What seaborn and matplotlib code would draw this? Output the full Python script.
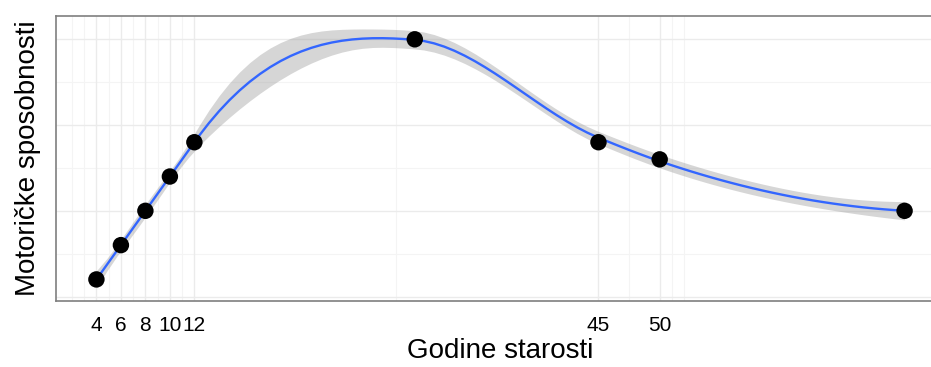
import numpy as np
import pandas as pd
import matplotlib
matplotlib.use("Agg")
import matplotlib.pyplot as plt
import seaborn as sns
from math import lgamma

# ---- data ----
age = [4, 6, 8, 10, 12, 30, 45, 50, 70]
ability = [1, 3, 5, 7, 9, 15, 9, 8, 5]
x_breaks = [4, 6, 8, 10, 12, 45, 50]
x_minor = [2, 3, 5, 7, 9, 11, 28.5, 47.5, 51, 52]
y_breaks = [0, 5, 10, 15]
y_minor = [2.5, 7.5, 12.5]

df = pd.DataFrame({"age": age, "ability": ability})

xv = np.asarray(age, float)
yv = np.asarray(ability, float)
n = len(xv)


# ---- loess (span 0.75, degree 2, kd-tree vertices + Hermite interpolation, as R) ----
def local_rows(x0, span=0.75):
    q = int(np.floor(n * span))
    d = np.abs(xv - x0)
    h = np.sort(d)[q - 1] * 1.0000001
    u = d / h
    w = np.where(u < 1, (1 - u ** 3) ** 3, 0.0)
    X = np.column_stack([np.ones(n), xv - x0, (xv - x0) ** 2])
    XtW = X.T * w
    B = np.linalg.lstsq(XtW @ X, XtW, rcond=None)[0]
    return B[0], B[1]  # value row, slope row


def kd_vertices(fc):
    order = np.sort(xv)
    mu = 0.005 * (order[-1] - order[0])
    lo_v, hi_v = order[0] - mu, order[-1] + mu
    verts = {lo_v, hi_v}

    def split(pts, a, b):
        if len(pts) <= fc:
            return
        m = (len(pts) + 1) // 2
        v = pts[m - 1]
        if v == a or v == b:
            return
        verts.add(v)
        split(pts[:m], a, v)
        split(pts[m:], v, b)

    split(list(order), lo_v, hi_v)
    return np.array(sorted(verts))


fc = int(np.floor(n * 0.75 * 0.2))
verts = kd_vertices(fc)
vrows = [local_rows(v) for v in verts]


def interp_row(x0):
    i = np.searchsorted(verts, x0) - 1
    i = min(max(i, 0), len(verts) - 2)
    a, b = verts[i], verts[i + 1]
    hh = b - a
    t = (x0 - a) / hh
    h00 = 2 * t ** 3 - 3 * t ** 2 + 1
    h10 = t ** 3 - 2 * t ** 2 + t
    h01 = -2 * t ** 3 + 3 * t ** 2
    h11 = t ** 3 - t ** 2
    va, sa = vrows[i]
    vb, sb = vrows[i + 1]
    return h00 * va + h10 * hh * sa + h01 * vb + h11 * hh * sb


def t_quantile(p, dfree):
    def pdf(t):
        return np.exp(lgamma((dfree + 1) / 2) - lgamma(dfree / 2)) / np.sqrt(dfree * np.pi) * (1 + t ** 2 / dfree) ** (-(dfree + 1) / 2)
    lo, hi = 0.0, 50.0
    for _ in range(60):
        mid = (lo + hi) / 2
        tt = np.linspace(0, mid, 4001)
        cdf = 0.5 + np.trapezoid(pdf(tt), tt)
        if cdf < p:
            lo = mid
        else:
            hi = mid
    return (lo + hi) / 2


L = np.array([interp_row(x0) for x0 in xv])
IL = np.eye(n) - L
R = IL.T @ IL
delta1 = np.trace(R)
delta2 = np.trace(R @ R)
sigma = np.sqrt(np.sum((IL @ yv) ** 2) / delta1)
tq = t_quantile(0.975, delta1 ** 2 / delta2)

grid = np.linspace(xv.min(), xv.max(), 80)
rows = np.array([interp_row(g) for g in grid])
fit = rows @ yv
se = sigma * np.sqrt(np.sum(rows ** 2, axis=1))
smooth = pd.DataFrame({"age": grid, "fit": fit, "lo": fit - tq * se, "hi": fit + tq * se})

# ---- figure ----
sns.set_theme(style="white")
plt.rcParams["font.family"] = ["Liberation Sans", "DejaVu Sans"]

fig = plt.figure(figsize=(9.31, 3.67), dpi=100)
ax = fig.add_axes([56 / 931, 1 - 301 / 367, (945 - 56) / 931, (301 - 16) / 367])

ax.fill_between(smooth["age"], smooth["lo"], smooth["hi"], color="#999999", alpha=0.4, linewidth=0, zorder=2)
sns.lineplot(data=smooth, x="age", y="fit", color="#3366FF", linewidth=1.7, ax=ax, zorder=3)
sns.scatterplot(data=df, x="age", y="ability", color="black", s=140, edgecolor="none", ax=ax, zorder=4)

# limits like ggplot (5% expansion)
xr = xv.max() - xv.min()
ax.set_xlim(xv.min() - 0.05 * xr, xv.max() + 0.05 * xr)
ylo = min(smooth["lo"].min(), yv.min())
yhi = max(smooth["hi"].max(), yv.max())
yr = yhi - ylo
ax.set_ylim(ylo - 0.05 * yr, yhi + 0.05 * yr)

for v in x_minor:
    ax.axvline(v, color="#F4F4F4", linewidth=0.8, zorder=0)
for v in y_minor:
    ax.axhline(v, color="#F4F4F4", linewidth=0.8, zorder=0)
for v in x_breaks:
    ax.axvline(v, color="#EBEBEB", linewidth=1.0, zorder=0)
for v in y_breaks:
    ax.axhline(v, color="#EBEBEB", linewidth=1.0, zorder=0)

ax.set_xticks(x_breaks)
ax.set_xticklabels([str(b) for b in x_breaks])
ax.set_yticks([])
ax.tick_params(axis="x", length=0, pad=11, labelsize=15, labelcolor="black")
ax.grid(False)

for s in ax.spines.values():
    s.set_visible(True)
    s.set_color("#7F7F7F")
    s.set_linewidth(1.2)

ax.set_xlabel("Godine starosti", fontsize=20, color="black", labelpad=2)
ax.set_ylabel("Motoričke sposobnosti", fontsize=20, color="black", labelpad=11)

fig.savefig("out.png", dpi=100)
